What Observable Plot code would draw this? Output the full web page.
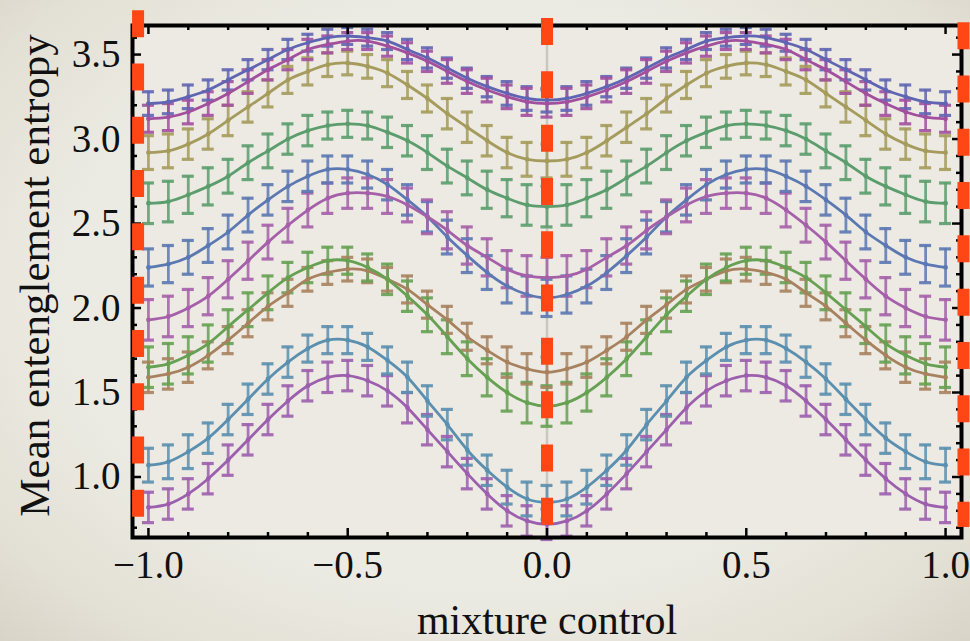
<!DOCTYPE html>
<html><head><meta charset="utf-8">
<script src="https://cdn.jsdelivr.net/npm/d3@7"></script>
<script src="https://cdn.jsdelivr.net/npm/@observablehq/plot@0.6"></script>
<style>
html,body{margin:0;padding:0;width:970px;height:641px;overflow:hidden;}
body{background: radial-gradient(ellipse 78% 82% at 50% 46%, #ecebe3 55%, #e3e0d5 78%, #d2cdc0 100%);}
#chart svg{display:block;}
</style></head><body><div id="chart"></div>
<script>
// ---- data ----
const xValues = [-1,-0.95,-0.9,-0.85,-0.8,-0.75,-0.7,-0.65,-0.6,-0.55,-0.5,-0.45,-0.4,-0.35,-0.3,-0.25,-0.2,-0.15,-0.1,-0.05,0,0.05,0.1,0.15,0.2,0.25,0.3,0.35,0.4,0.45,0.5,0.55,0.6,0.65,0.7,0.75,0.8,0.85,0.9,0.95,1];

const seriesNames = ["s1","s2","s3","s4","s5","s6","s7","s8","s9","s10"];
const seriesColors = ["#6065b3","#a2509e","#a59b5c","#5b9d6d","#5c78b3","#a560a9","#a8825f","#66a153","#5b8fb0","#9c5fae"];

const s1 = [3.21,3.22,3.25,3.29,3.35,3.41,3.47,3.53,3.57,3.60,3.61,3.60,3.58,3.53,3.48,3.42,3.36,3.31,3.27,3.24,3.23,3.24,3.27,3.31,3.36,3.42,3.48,3.53,3.58,3.60,3.61,3.60,3.57,3.53,3.47,3.41,3.35,3.29,3.25,3.22,3.21];
const s2 = [3.12,3.13,3.16,3.21,3.27,3.34,3.41,3.47,3.53,3.56,3.58,3.58,3.55,3.51,3.46,3.40,3.34,3.29,3.25,3.22,3.21,3.22,3.25,3.29,3.34,3.40,3.46,3.51,3.55,3.58,3.58,3.56,3.53,3.47,3.41,3.34,3.27,3.21,3.16,3.13,3.12];
const s3 = [2.92,2.93,2.97,3.03,3.11,3.19,3.27,3.35,3.40,3.44,3.45,3.43,3.39,3.32,3.24,3.15,3.07,2.99,2.92,2.88,2.87,2.88,2.92,2.99,3.07,3.15,3.24,3.32,3.39,3.43,3.45,3.44,3.40,3.35,3.27,3.19,3.11,3.03,2.97,2.93,2.92];
const s4 = [2.62,2.63,2.67,2.72,2.78,2.86,2.93,3.00,3.05,3.08,3.09,3.08,3.04,2.99,2.92,2.84,2.77,2.70,2.65,2.61,2.60,2.61,2.65,2.70,2.77,2.84,2.92,2.99,3.04,3.08,3.09,3.08,3.05,3.00,2.93,2.86,2.78,2.72,2.67,2.63,2.62];
const s5 = [2.24,2.26,2.30,2.37,2.45,2.55,2.64,2.72,2.78,2.82,2.82,2.79,2.73,2.64,2.54,2.42,2.31,2.21,2.13,2.08,2.06,2.08,2.13,2.21,2.31,2.42,2.54,2.64,2.73,2.79,2.82,2.82,2.78,2.72,2.64,2.55,2.45,2.37,2.30,2.26,2.24];
const s6 = [1.93,1.95,2.00,2.07,2.17,2.28,2.39,2.49,2.58,2.65,2.68,2.68,2.66,2.61,2.54,2.46,2.37,2.30,2.23,2.19,2.18,2.19,2.23,2.30,2.37,2.46,2.54,2.61,2.66,2.68,2.68,2.65,2.58,2.49,2.39,2.28,2.17,2.07,2.00,1.95,1.93];
const s7 = [1.59,1.61,1.65,1.72,1.81,1.91,2.01,2.09,2.17,2.21,2.23,2.22,2.17,2.11,2.02,1.93,1.83,1.75,1.68,1.64,1.62,1.64,1.68,1.75,1.83,1.93,2.02,2.11,2.17,2.22,2.23,2.21,2.17,2.09,2.01,1.91,1.81,1.72,1.65,1.61,1.59];
const s8 = [1.65,1.67,1.72,1.79,1.89,1.99,2.09,2.18,2.24,2.28,2.28,2.24,2.17,2.07,1.96,1.83,1.70,1.59,1.50,1.44,1.42,1.44,1.50,1.59,1.70,1.83,1.96,2.07,2.17,2.24,2.28,2.28,2.24,2.18,2.09,1.99,1.89,1.79,1.72,1.67,1.65];
const s9 = [1.07,1.09,1.15,1.23,1.34,1.46,1.58,1.68,1.76,1.81,1.81,1.77,1.69,1.59,1.45,1.31,1.16,1.04,0.94,0.87,0.85,0.87,0.94,1.04,1.16,1.31,1.45,1.59,1.69,1.77,1.81,1.81,1.76,1.68,1.58,1.46,1.34,1.23,1.15,1.09,1.07];
const s10 = [0.82,0.84,0.90,0.99,1.10,1.22,1.34,1.45,1.54,1.59,1.60,1.57,1.51,1.41,1.28,1.15,1.02,0.90,0.80,0.74,0.72,0.74,0.80,0.90,1.02,1.15,1.28,1.41,1.51,1.57,1.60,1.59,1.54,1.45,1.34,1.22,1.10,0.99,0.90,0.84,0.82];

const e1 = [.07,.07,.07,.06,.06,.06,.06,.06,.05,.05,.05,.05,.05,.06,.06,.06,.06,.06,.07,.07,.07,.07,.07,.06,.06,.06,.06,.06,.05,.05,.05,.05,.05,.06,.06,.06,.06,.06,.07,.07,.07];
const e2 = [.08,.08,.07,.07,.07,.07,.06,.06,.06,.05,.05,.05,.06,.06,.06,.07,.07,.07,.07,.08,.08,.08,.07,.07,.07,.07,.06,.06,.06,.05,.05,.05,.06,.06,.06,.07,.07,.07,.07,.08,.08];
const e3 = [.10,.10,.09,.09,.09,.09,.08,.08,.08,.07,.07,.07,.08,.08,.08,.09,.09,.09,.09,.10,.10,.10,.09,.09,.09,.09,.08,.08,.08,.07,.07,.07,.08,.08,.08,.09,.09,.09,.09,.10,.10];
const e4 = [.12,.12,.11,.11,.10,.10,.10,.09,.09,.08,.08,.08,.09,.09,.10,.10,.10,.11,.11,.12,.12,.12,.11,.11,.10,.10,.10,.09,.09,.08,.08,.08,.09,.09,.10,.10,.10,.11,.11,.12,.12];
const e5 = [.11,.11,.10,.10,.10,.10,.09,.09,.09,.08,.08,.08,.09,.09,.09,.10,.10,.10,.10,.11,.11,.11,.10,.10,.10,.10,.09,.09,.09,.08,.08,.08,.09,.09,.09,.10,.10,.10,.10,.11,.11];
const e6 = [.12,.12,.11,.11,.11,.11,.10,.10,.10,.09,.09,.09,.10,.10,.10,.11,.11,.11,.11,.12,.12,.12,.11,.11,.11,.11,.10,.10,.10,.09,.09,.09,.10,.10,.10,.11,.11,.11,.11,.12,.12];
const e7 = [.09,.09,.09,.08,.08,.08,.08,.08,.07,.07,.07,.07,.07,.08,.08,.08,.08,.08,.09,.09,.09,.09,.09,.08,.08,.08,.08,.08,.07,.07,.07,.07,.07,.08,.08,.08,.08,.08,.09,.09,.09];
const e8 = [.12,.12,.11,.11,.10,.10,.10,.09,.09,.08,.08,.08,.09,.09,.10,.10,.10,.11,.11,.12,.12,.12,.11,.11,.10,.10,.10,.09,.09,.08,.08,.08,.09,.09,.10,.10,.10,.11,.11,.12,.12];
const e9 = [.10,.10,.10,.09,.09,.09,.09,.09,.08,.08,.08,.08,.08,.09,.09,.09,.09,.09,.10,.10,.10,.10,.10,.09,.09,.09,.09,.09,.08,.08,.08,.08,.08,.09,.09,.09,.09,.09,.10,.10,.10];
const e10 = [.09,.09,.09,.09,.09,.09,.09,.09,.09,.09,.09,.09,.09,.09,.09,.09,.09,.09,.09,.09,.09,.09,.09,.09,.09,.09,.09,.09,.09,.09,.09,.09,.09,.09,.09,.09,.09,.09,.09,.09,.09];

const xMajorTicks = [-1, -0.5, 0, 0.5, 1];
const xMinorTicks = [-0.9,-0.8,-0.7,-0.6,-0.4,-0.3,-0.2,-0.1,0.1,0.2,0.3,0.4,0.6,0.7,0.8,0.9];
const yMajorTicks = [1.0, 1.5, 2.0, 2.5, 3.0, 3.5];
const yMinorTicks = [0.7,0.8,0.9,1.1,1.2,1.3,1.4,1.6,1.7,1.8,1.9,2.1,2.2,2.3,2.4,2.6,2.7,2.8,2.9,3.1,3.2,3.3,3.4,3.6];

// red dashed annotation lines (x, top, bottom)
const redX = [-1.026, 0, 1.045];
const redTop = [3.76, 3.713, 3.689];
const redBottom = [0.76, 0.713, 0.701];

const xTitle = "mixture control";
const yTitle = "Mean entenglement entropy";

// ---- build table ----
const values = [s1,s2,s3,s4,s5,s6,s7,s8,s9,s10];
const errors = [e1,e2,e3,e4,e5,e6,e7,e8,e9,e10];
const table = [];
seriesNames.forEach((name, i) => {
  xValues.forEach((x, j) => table.push({series: name, x, y: values[i][j], e: errors[i][j]}));
});
const redLines = redX.map((x, i) => ({x, top: redTop[i], bottom: redBottom[i]}));

const W = 970, H = 641, mL = 132, mR = 9, mT = 25, mB = 104;
const plotH = H - mT - mB, plotW = W - mL - mR;
const font = "'Liberation Serif', 'DejaVu Serif', serif";

const chart = Plot.plot({
  width: W, height: H,
  marginLeft: mL, marginRight: mR, marginTop: mT, marginBottom: mB,
  style: {fontFamily: font, background: "transparent", color: "#111"},
  x: {domain: [-1.04, 1.04], axis: null},
  y: {domain: [0.642, 3.672], axis: null},
  color: {domain: seriesNames, range: seriesColors},
  marks: [
    Plot.frame({fill: "#eceae2", stroke: null}),
    Plot.ruleX([0], {stroke: "#c9c8c0", strokeWidth: 2.5}),
    Plot.ruleX(table, {x: "x", y1: d => d.y - d.e, y2: d => d.y + d.e, stroke: "series", strokeWidth: 2.8, strokeOpacity: 0.85}),
    Plot.ruleY(table, {y: d => d.y + d.e, x1: "x", x2: "x", insetLeft: -6, insetRight: -6, stroke: "series", strokeWidth: 3.2, strokeOpacity: 0.9}),
    Plot.ruleY(table, {y: d => d.y - d.e, x1: "x", x2: "x", insetLeft: -6, insetRight: -6, stroke: "series", strokeWidth: 3.2, strokeOpacity: 0.9}),
    Plot.line(table, {x: "x", y: "y", z: "series", stroke: "series", curve: "natural", strokeWidth: 2.8}),
    Plot.dot(table, {x: "x", y: "y", r: 2.4, fill: "series", stroke: null}),
    Plot.frame({stroke: "#000", strokeWidth: 4}),
    // inward ticks
    Plot.ruleX(xMajorTicks, {x: d => d, insetTop: plotH - 9, stroke: "#000", strokeWidth: 2.5}),
    Plot.ruleX(xMajorTicks, {x: d => d, insetBottom: plotH - 9, stroke: "#000", strokeWidth: 2.5}),
    Plot.ruleX(xMinorTicks, {x: d => d, insetTop: plotH - 5, stroke: "#000", strokeWidth: 2.5}),
    Plot.ruleX(xMinorTicks, {x: d => d, insetBottom: plotH - 5, stroke: "#000", strokeWidth: 2.5}),
    Plot.ruleY(yMajorTicks, {y: d => d, insetRight: plotW - 9, stroke: "#000", strokeWidth: 2.5}),
    Plot.ruleY(yMajorTicks, {y: d => d, insetLeft: plotW - 9, stroke: "#000", strokeWidth: 2.5}),
    Plot.ruleY(yMinorTicks, {y: d => d, insetRight: plotW - 5, stroke: "#000", strokeWidth: 2.5}),
    Plot.ruleY(yMinorTicks, {y: d => d, insetLeft: plotW - 5, stroke: "#000", strokeWidth: 2.5}),
    // tick labels
    Plot.axisX({ticks: xMajorTicks, tickSize: 0, tickPadding: 13, tickFormat: d3.format(".1f"), fontSize: 39, fontFamily: font, label: null, fill: "#111"}),
    Plot.axisY({ticks: yMajorTicks, tickSize: 0, tickPadding: 12, tickFormat: d3.format(".1f"), fontSize: 39, fontFamily: font, label: null, fill: "#111"}),
    // titles
    Plot.text([xTitle], {text: d => d, frameAnchor: "bottom", lineAnchor: "bottom", dy: 96, fontSize: 42, fontFamily: font, fill: "#111"}),
    Plot.text([yTitle], {text: d => d, frameAnchor: "left", textAnchor: "middle", rotate: -90, dx: -97, dy: -6, fontSize: 43, fontFamily: font, fill: "#111"}),
    // red dashed annotation
    Plot.ruleX(redLines, {x: "x", y1: "top", y2: "bottom", stroke: "#ff4614", strokeWidth: 12, strokeDasharray: "27,26.3"})
  ]
});
document.getElementById("chart").appendChild(chart);
</script>
</body></html>
